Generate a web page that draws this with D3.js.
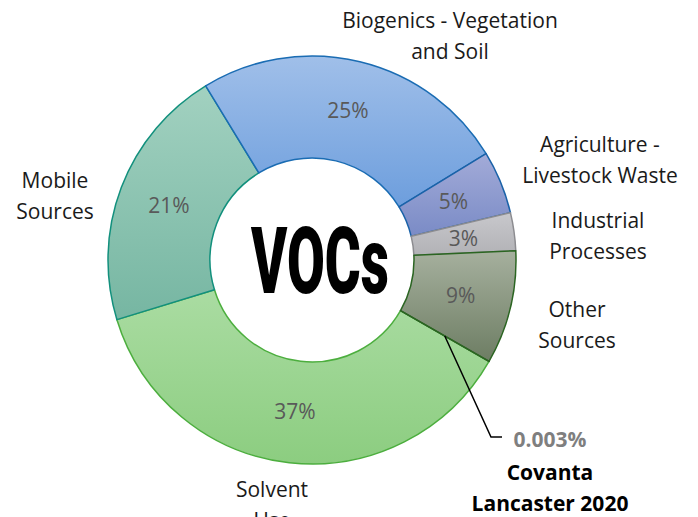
<!DOCTYPE html>
<html>
<head>
<meta charset="utf-8">
<script src="https://cdn.jsdelivr.net/npm/d3@7"></script>
<style>
  html, body { margin: 0; padding: 0; background: #fff; }
  svg { display: block; }
</style>
</head>
<body>
<script>
// ---- data ----
const categories = ["Solvent Use", "Mobile Sources", "Biogenics - Vegetation and Soil",
  "Agriculture - Livestock Waste", "Industrial Processes", "Other Sources", "Covanta Lancaster 2020"];
const values = [37, 21, 25, 5, 3, 9, 0.003];
const percentLabels = ["37%", "21%", "25%", "5%", "3%", "9%", "0.003%"];
const labelLines = [["Solvent", "Use"], ["Mobile", "Sources"], ["Biogenics - Vegetation", "and Soil"],
  ["Agriculture -", "Livestock Waste"], ["Industrial", "Processes"], ["Other", "Sources"],
  ["Covanta", "Lancaster 2020"]];
const centerTitle = "VOCs";

// ---- styles / layout ----
const W = 698, H = 517;
const cx = 312, cy = 260, rOuter = 204, rInner = 102;
const FONT = "'Open Sans', Lato, sans-serif";
const topColors = ["#aadca2", "#a2d1c0", "#a0bfe9", "#a3abd8", "#c8c8cc", "#a6b09e", "#a6b09e"];
const botColors = ["#8ccd80", "#76b6a2", "#6d9edd", "#7a8bc6", "#b2b2b6", "#6d7d63", "#6d7d63"];
const strokes = ["#4cae3e", "#12907d", "#1a6cb3", "#1a62a8", "#8c8c90", "#2b6522", "#2b6522"];
// label anchor positions (centre x, first baseline y)
const labelPos = [[272, 497], [55, 188], [450, 28], [600, 152], [598, 228], [577, 317], [550, 480]];

const svg = d3.select("body").append("svg").attr("width", W).attr("height", H);
const defs = svg.append("defs");
topColors.forEach((c, i) => {
  const gr = defs.append("linearGradient").attr("id", "g" + i)
    .attr("x1", 0).attr("y1", 0).attr("x2", 0).attr("y2", 1);
  gr.append("stop").attr("offset", "0%").attr("stop-color", c);
  gr.append("stop").attr("offset", "100%").attr("stop-color", botColors[i]);
});

const start = 119.8 * Math.PI / 180;
const pie = d3.pie().sort(null).value(d => d).startAngle(start).endAngle(start + 2 * Math.PI);
const arcs = pie(values);
const arc = d3.arc().innerRadius(rInner).outerRadius(rOuter);
const midArc = d3.arc().innerRadius((rInner + rOuter) / 2).outerRadius((rInner + rOuter) / 2);

const g = svg.append("g").attr("transform", `translate(${cx},${cy})`);
g.selectAll("path.slice").data(arcs).enter().append("path")
  .attr("class", "slice")
  .attr("d", arc)
  .attr("fill", (d, i) => `url(#g${i})`)
  .attr("stroke", (d, i) => strokes[i])
  .attr("stroke-width", 1.5)
  .attr("stroke-linejoin", "round");

// percentage labels inside (except tiny slice)
g.selectAll("text.pct").data(arcs.filter(d => d.value >= 1)).enter().append("text")
  .attr("class", "pct")
  .attr("x", d => midArc.centroid(d)[0])
  .attr("y", d => midArc.centroid(d)[1] + 7)
  .attr("text-anchor", "middle")
  .attr("font-family", FONT)
  .attr("font-size", 21)
  .attr("fill", "#595959")
  .text(d => percentLabels[d.index]);

// category labels
const lab = svg.append("g").attr("font-family", FONT).attr("font-size", 21);
labelLines.forEach((lines, i) => {
  const t = lab.append("text").attr("text-anchor", "middle")
    .attr("fill", i === 6 ? "#000" : "#1a1a1a")
    .attr("font-weight", i === 6 ? "bold" : "normal");
  lines.forEach((ln, k) => {
    t.append("tspan").attr("x", labelPos[i][0]).attr("y", labelPos[i][1] + k * 31).text(ln);
  });
});

// tiny slice: leader line + value label
const tiny = arcs[6];
const p0 = midArc.centroid(tiny);
const elbow = [491 - cx, 437 - cy];
const endp = [502 - cx, 437 - cy];
g.append("path")
  .attr("d", d3.line()([p0, elbow, endp]))
  .attr("fill", "none").attr("stroke", "#000").attr("stroke-width", 1.5);
svg.append("text")
  .attr("x", 550).attr("y", 447)
  .attr("text-anchor", "middle")
  .attr("font-family", FONT)
  .attr("font-size", 21).attr("font-weight", "bold")
  .attr("fill", "#7f7f7f")
  .text(percentLabels[6]);

// centre title (condensed by horizontal scaling)
const title = svg.append("text")
  .attr("x", 0).attr("y", 0)
  .attr("font-family", "Roboto, 'DejaVu Sans', sans-serif")
  .attr("font-weight", "900")
  .attr("font-size", 92)
  .attr("fill", "#000")
  .text(centerTitle);
const natW = title.node().getComputedTextLength() || 210;
const sx = 138 / natW;
title.attr("transform", `translate(251,293) scale(${sx},1)`);
</script>
</body>
</html>
